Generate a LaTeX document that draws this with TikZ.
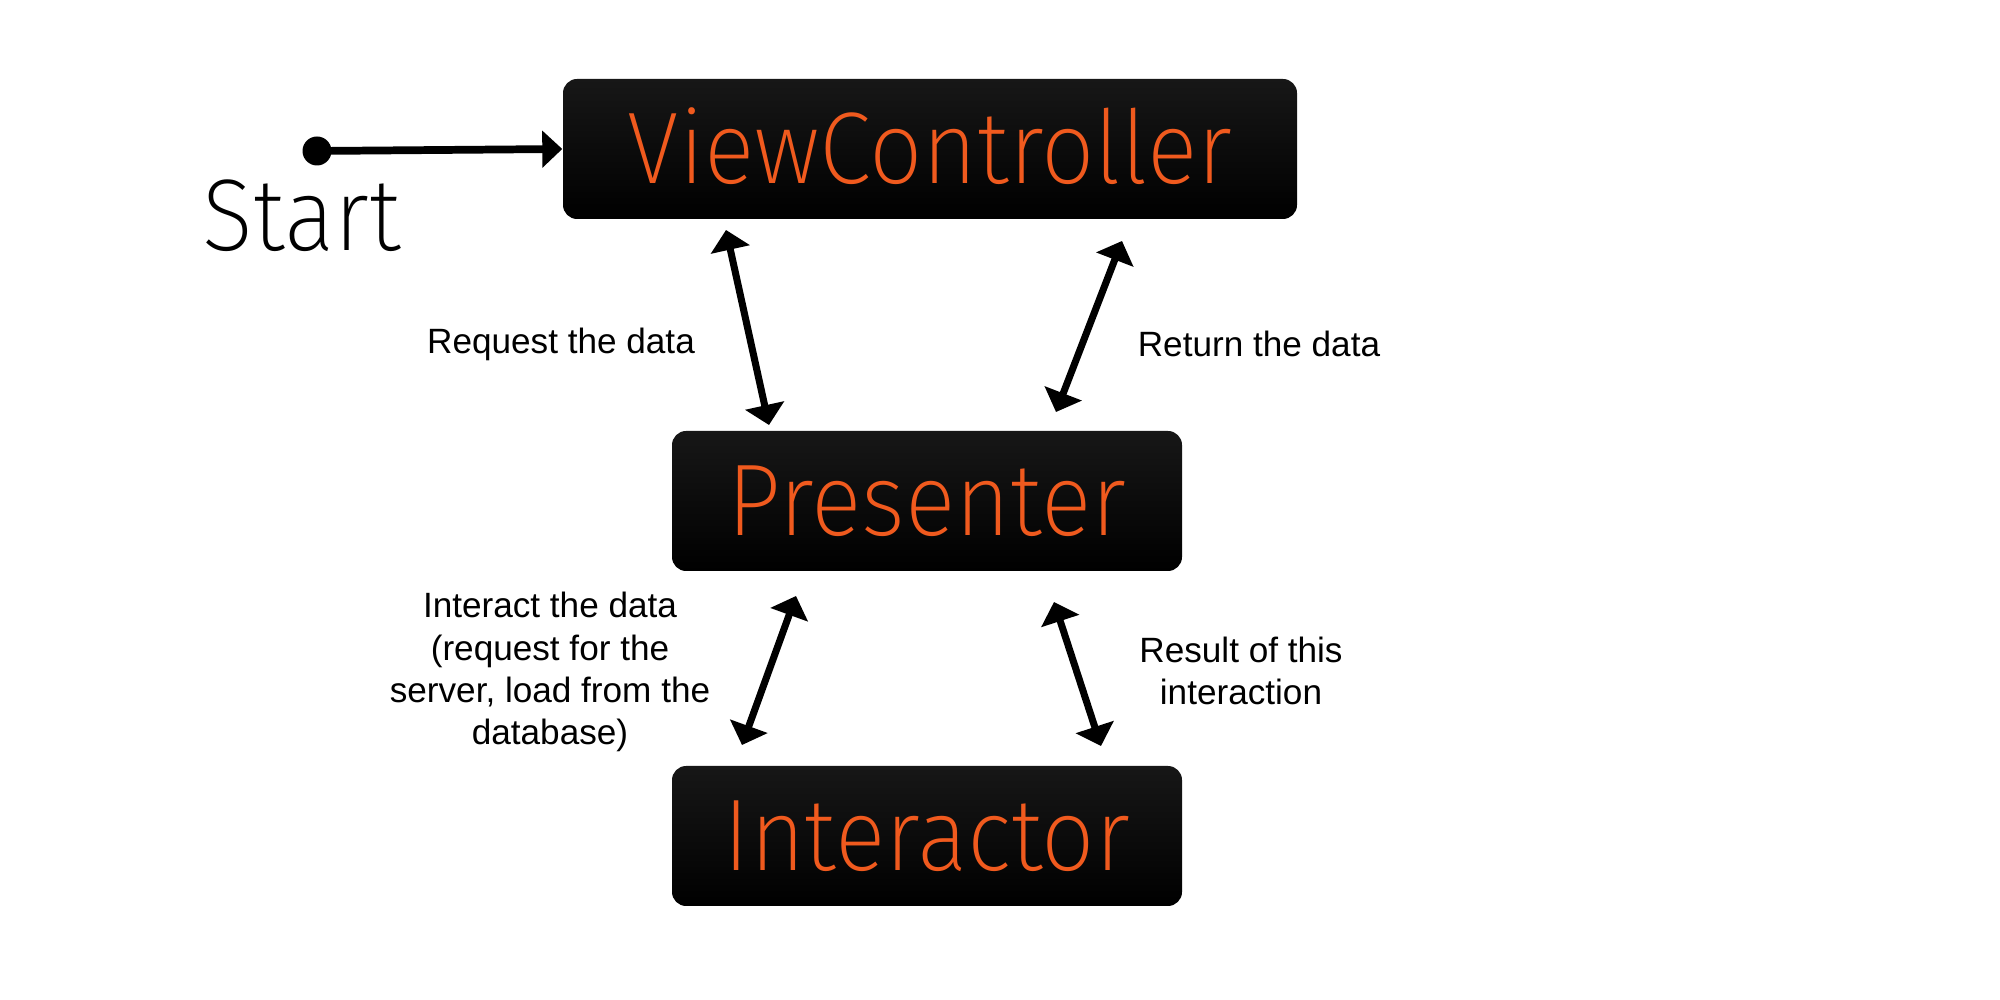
\documentclass[tikz,border=0pt]{standalone}
\usepackage{fontspec}
\setmainfont{Liberation Sans}
\IfFontExistsTF{Fira Sans ExtraLight}
  {\newfontfamily\thinfont{Fira Sans ExtraLight}\newcommand{\thinscale}{0.925}}
  {\IfFontExistsTF{Lato Light}
    {\newfontfamily\thinfont{Lato Light}\newcommand{\thinscale}{0.90}}
    {\newfontfamily\thinfont{Fira Sans}\newcommand{\thinscale}{0.90}}}
\usepackage{xcolor}
\usetikzlibrary{arrows.meta, positioning, calc}

\definecolor{vipOrange}{RGB}{240,90,30}
\newcommand{\boxlabel}[1]{\scalebox{\thinscale}[1]{#1}}

\begin{document}
\begin{tikzpicture}[
  every node/.style={font=\fontsize{10}{12}\selectfont},
  layer/.style={rounded corners=4pt, top color=black!91, bottom color=black,
    minimum height=14mm, inner sep=0pt, text height=7mm, text depth=0pt,
    text=vipOrange, font=\thinfont\fontsize{29}{30}\selectfont},
  lbl/.style={align=center, inner sep=0pt},
  arr/.style={-{Triangle[length=2mm, width=3.6mm]}, line width=2.2pt},
  biarr/.style={{Triangle[length=2mm, width=3.9mm]}-{Triangle[length=2mm, width=3.9mm]}, line width=2pt},
]
\useasboundingbox (0,0) rectangle (20,-10);

% layers
\node[layer, minimum width=73.4mm] (vc) at (9.30,-1.49) {\boxlabel{ViewController}};
\node[layer, minimum width=51mm] (presenter) at (9.27,-5.01) {\boxlabel{Presenter}};
\node[layer, minimum width=51mm] (interactor) at (9.27,-8.36) {\boxlabel{Interactor}};

% entry point
\node[circle, fill, inner sep=0pt, minimum size=2.9mm] (startdot) at (3.17,-1.51) {};
\node[anchor=base west, inner sep=0pt, font=\thinfont\fontsize{29}{30}\selectfont]
  (start) at (2.02,-2.51) {\boxlabel{Start}};
\draw[arr] (startdot.center) -- (vc.west);

% arrow ends
\coordinate (reqA) at (7.26,-2.30);
\coordinate (reqB) at (7.69,-4.25);
\coordinate (retA) at (11.22,-2.41);
\coordinate (retB) at (10.56,-4.12);
\coordinate (intA) at (7.96,-5.96);
\coordinate (intB) at (7.42,-7.45);
\coordinate (resA) at (10.54,-6.02);
\coordinate (resB) at (11.01,-7.46);

\draw[biarr] (reqA) -- (reqB);
\draw[biarr] (retA) -- (retB);
\draw[biarr] (intA) -- (intB);
\draw[biarr] (resA) -- (resB);

% labels
\node[lbl] (reqlbl) at (5.61,-3.44) {Request the data};
\node[lbl] (retlbl) at (12.59,-3.44) {Return the data};
\node[lbl] (intlbl) at (5.50,-6.72) {Interact the data\\(request for the\\server, load from the\\database)};
\node[lbl] (reslbl) at (12.41,-6.71) {Result of this\\interaction};
\end{tikzpicture}
\end{document}
